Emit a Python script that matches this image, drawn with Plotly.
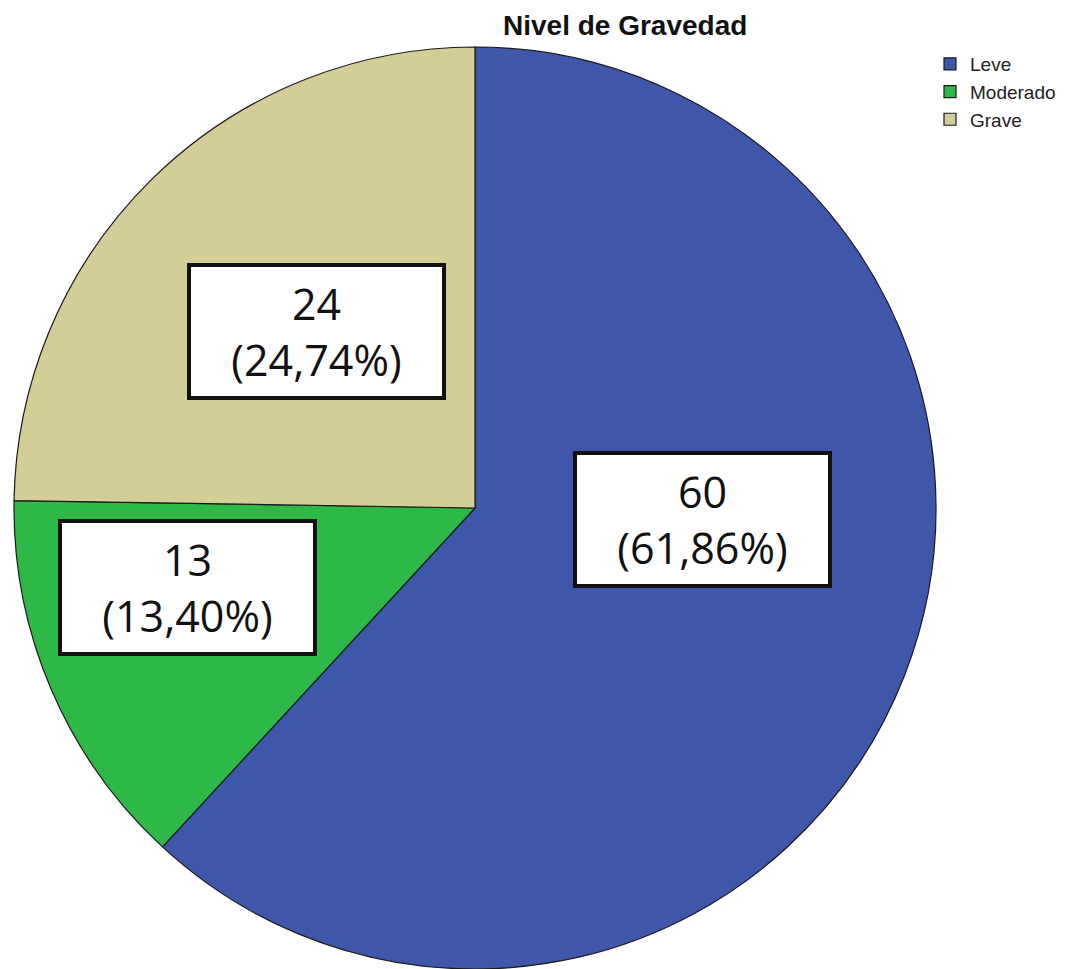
import plotly.graph_objects as go

categories = ["Leve", "Moderado", "Grave"]
counts = [60, 13, 24]
percent_labels = ["61,86%", "13,40%", "24,74%"]
colors = ["#3E57AA", "#2EB848", "#D3CE98"]
title_text = "Nivel de Gravedad"

# the page body adds an 8px margin, so the figure is drawn 8px smaller and
# reference pixel positions are shifted by that offset
OFF = 8
W, H = 1069 - OFF, 969 - OFF


def px_x(x):
    return (x - OFF) / W


def px_y(y):
    return 1 - (y - OFF) / H


# label box centres in reference pixels (x from left, y from top)
label_px = [(702, 519), (187, 587), (316, 331)]

fig = go.Figure()
fig.add_trace(go.Pie(
    labels=categories,
    values=counts,
    sort=False,
    direction="clockwise",
    rotation=0,
    textinfo="none",
    hoverinfo="label+value+percent",
    marker=dict(colors=colors, line=dict(color="#1a1a1a", width=1.2)),
    domain=dict(x=[px_x(13), px_x(937)], y=[0, px_y(47)]),
    showlegend=True,
))

annotations = []
for (px, py), c, p in zip(label_px, counts, percent_labels):
    annotations.append(dict(
        x=px_x(px), y=px_y(py), xref="paper", yref="paper",
        xanchor="center", yanchor="middle",
        text=f"{c}<br>({p})",
        showarrow=False,
        font=dict(family="Open Sans, Noto Sans, sans-serif", size=43, color="#111111"),
        bgcolor="white", bordercolor="#111111", borderwidth=4, borderpad=0,
        width=251, height=129, align="center",
    ))

annotations.append(dict(
    x=px_x(625), y=1, xref="paper", yref="paper",
    xanchor="center", yanchor="top",
    text=f"<b>{title_text}</b>",
    showarrow=False,
    font=dict(family="Liberation Sans, Arial, sans-serif", size=28, color="#111111"),
))

fig.update_layout(
    width=W, height=H,
    margin=dict(l=0, r=0, t=0, b=0),
    paper_bgcolor="white",
    plot_bgcolor="white",
    legend=dict(
        x=px_x(930), xanchor="left",
        y=px_y(45), yanchor="top",
        font=dict(family="Liberation Sans, Arial, sans-serif", size=19, color="#222222"),
        tracegroupgap=0,
        itemwidth=30,
        bgcolor="rgba(0,0,0,0)",
    ),
    annotations=annotations,
)

fig.write_html("out.html")
